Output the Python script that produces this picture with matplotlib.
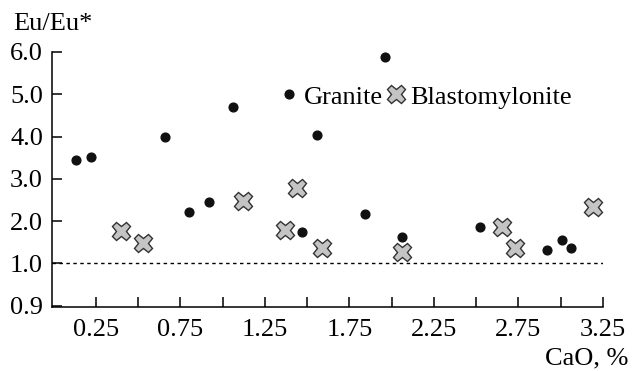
import matplotlib
matplotlib.use("Agg")
import matplotlib.pyplot as plt

# CaO, % vs Eu/Eu*
granite_cao = [0.13, 0.22, 0.66, 1.06, 1.56, 1.96, 0.80, 0.92, 1.47, 1.84, 2.06, 2.52, 2.92, 3.01, 3.06]
granite_eu = [3.45, 3.52, 3.99, 4.71, 4.04, 5.88, 2.21, 2.45, 1.73, 2.16, 1.62, 1.86, 1.32, 1.55, 1.36]

blasto_cao = [0.40, 0.53, 1.12, 1.37, 1.44, 1.59, 2.06, 2.65, 2.73, 3.19]
blasto_eu = [1.77, 1.49, 2.48, 1.79, 2.79, 1.36, 1.27, 1.85, 1.37, 2.34]

ytick_vals = [0, 1, 2, 3, 4, 5, 6]
ytick_labels = ["0.9", "1.0", "2.0", "3.0", "4.0", "5.0", "6.0"]
xtick_major = [0.25, 0.75, 1.25, 1.75, 2.25, 2.75, 3.25]
xtick_minor = [0.5, 1.0, 1.5, 2.0, 2.5, 3.0]
ref_level = 1.0

plt.rcParams["font.family"] = ["Liberation Serif", "DejaVu Serif"]
plt.rcParams["font.size"] = 19

fig = plt.figure(figsize=(6.38, 3.71), dpi=100)
ax = fig.add_axes([52 / 638, 1 - 307 / 371, (603 - 52) / 638, (307 - 52) / 371])

ax.axhline(ref_level, color="black", lw=1.0, ls=(0, (2.5, 2.5)), zorder=1)

ax.plot(granite_cao, granite_eu, ls="none", marker="o", ms=6.3, color="#111111",
        label="Granite", zorder=3)
ax.plot(blasto_cao, blasto_eu, ls="none", marker="X", ms=13, mfc="#c4c4c4", mec="#333333",
        mew=1.0, label="Blastomylonite", zorder=3)

ax.set_xlim(-0.01, 3.25)
ax.set_ylim(-0.035, 6.0)
ax.set_xticks(xtick_major)
ax.set_xticklabels([f"{v:.2f}" for v in xtick_major])
ax.set_xticks(xtick_minor, minor=True)
ax.set_yticks(ytick_vals)
ax.set_yticklabels(ytick_labels)

ax.spines["top"].set_visible(False)
ax.spines["right"].set_visible(False)
for s in ("left", "bottom"):
    ax.spines[s].set_linewidth(1.1)
ax.tick_params(axis="both", which="both", direction="in", length=7, width=1.1)
ax.tick_params(axis="x", which="both", pad=9)
ax.tick_params(axis="y", pad=6.5)

ax.legend(loc="center left", bbox_to_anchor=(281 / 638, 1 - 97 / 371), bbox_transform=fig.transFigure,
          ncol=2, frameon=False, handlelength=0.6, handletextpad=0.25, columnspacing=0.2,
          borderpad=0, borderaxespad=0)

fig.text(13 / 638, 1 - 30 / 371, "Eu/Eu*", ha="left", va="baseline")
fig.text(628 / 638, 1 - 364 / 371, "CaO, %", ha="right", va="baseline")

fig.savefig("out.png", dpi=100)
